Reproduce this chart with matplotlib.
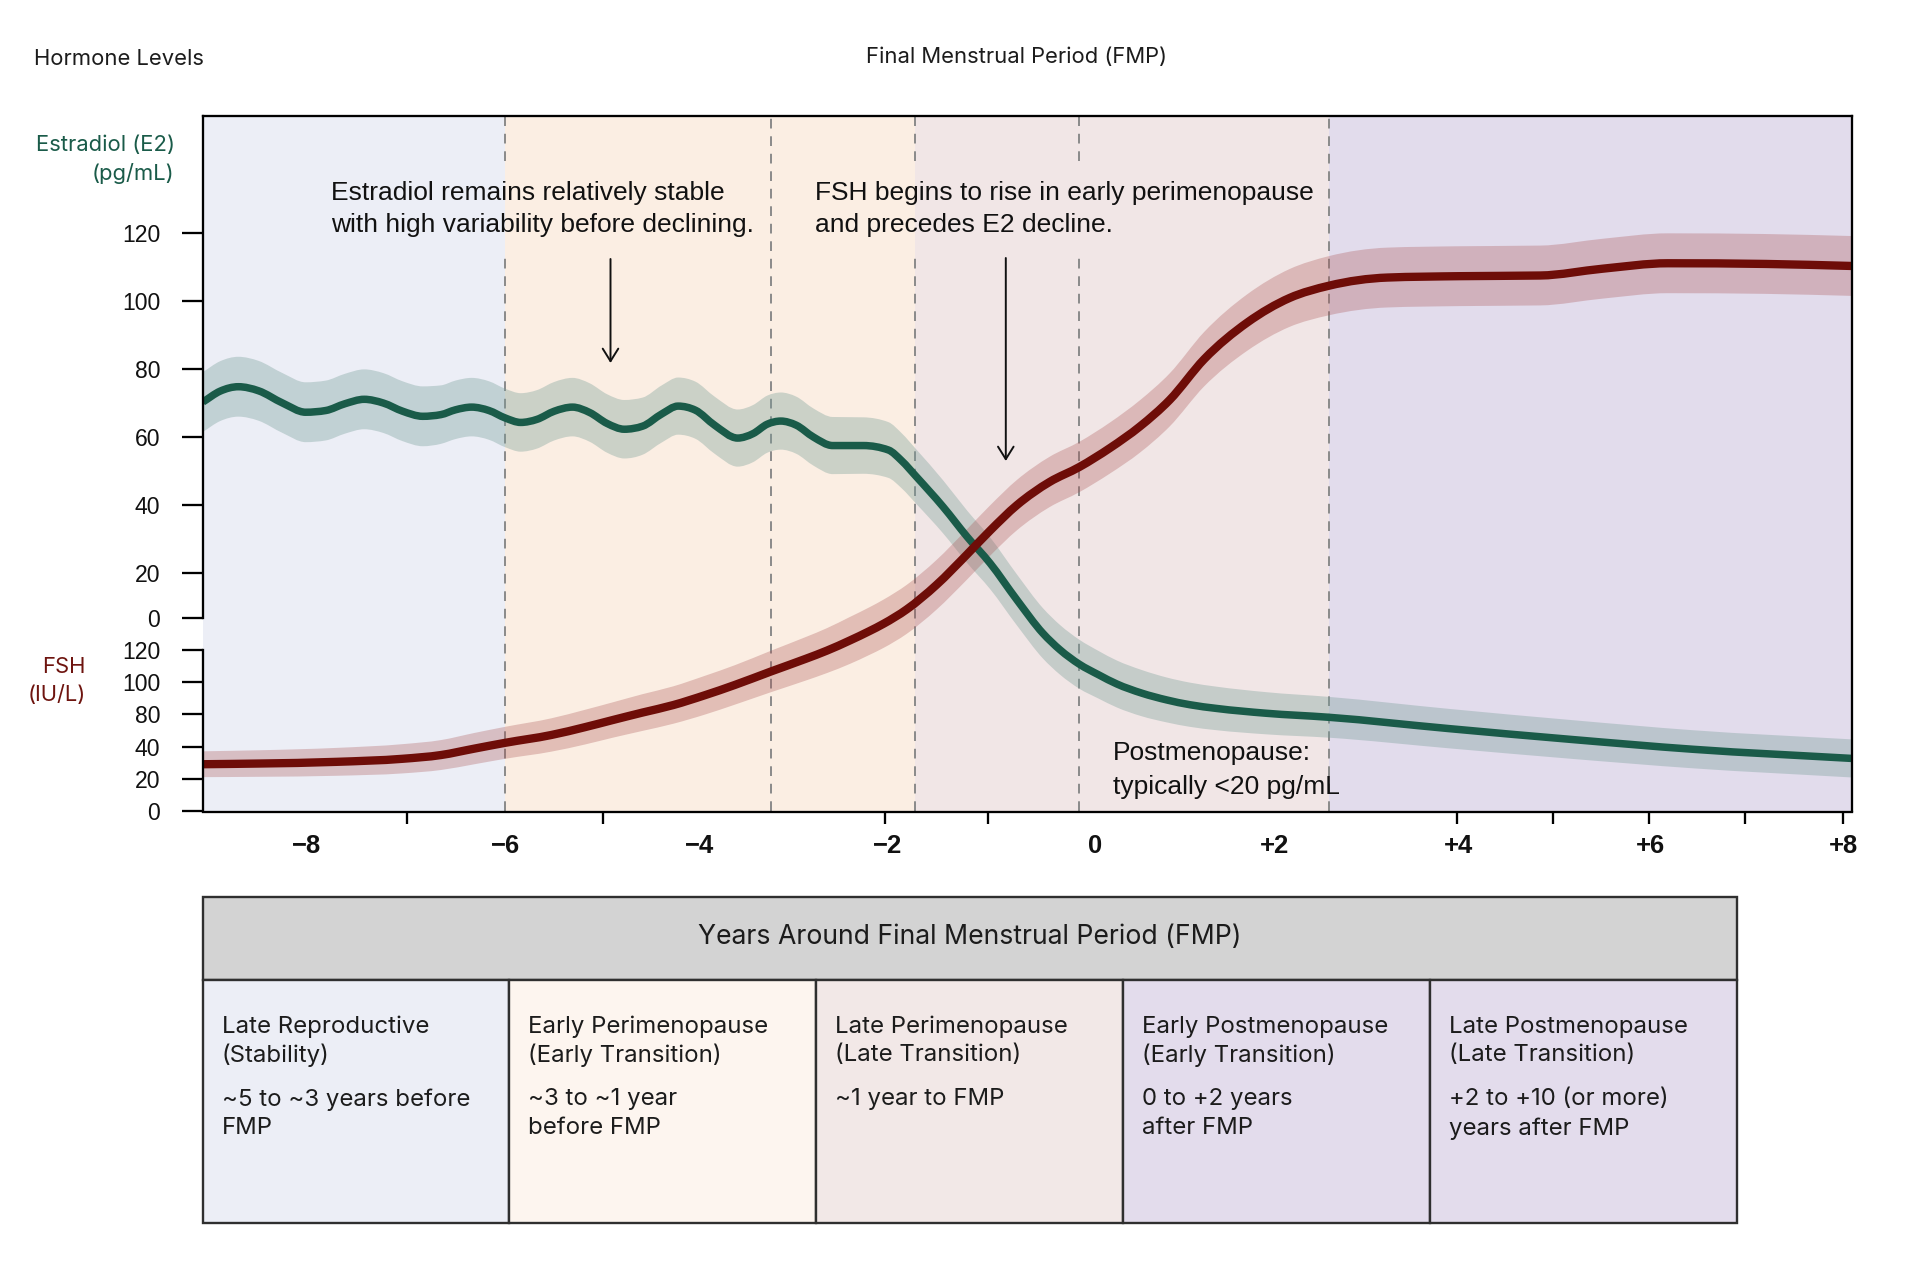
import numpy as np
import matplotlib
matplotlib.use("Agg")
import matplotlib.pyplot as plt
from matplotlib.patches import Rectangle, PathPatch
from matplotlib.path import Path

# ---------------- data ----------------
# x: years around the final menstrual period; y: level on the chart's E2 scale
years_e2 = [-9.08, -8.90, -8.71, -8.50, -8.25, -8.01, -7.80, -7.60, -7.40, -7.20,
            -7.00, -6.79, -6.60, -6.45, -6.28, -6.10, -5.93, -5.77, -5.60, -5.42,
            -5.23, -5.05, -4.87, -4.69, -4.50, -4.30, -4.13, -3.95, -3.75, -3.51,
            -3.35, -3.20, -3.06, -2.90, -2.72, -2.52, -2.20, -1.94, -1.80, -1.65,
            -1.37, -1.12, -0.88, -0.60, -0.33, -0.15, 0.05, 0.25, 0.44, 0.70,
            0.96, 1.20, 1.48, 1.99, 2.65, 3.89, 5.17, 6.44, 8.10]
e2_level = [70.3, 73.5, 74.8, 73.6, 70.0, 67.3, 67.8, 69.8, 71.1, 70.0,
            67.6, 66.1, 66.6, 68.0, 68.8, 67.8, 65.6, 64.3, 65.2, 67.6,
            68.8, 67.2, 64.0, 62.3, 63.2, 66.8, 69.1, 67.9, 63.5, 59.7,
            61.0, 63.8, 64.7, 63.5, 60.0, 57.5, 57.5, 56.2, 53.0, 48.4,
            39.5, 30.7, 22.9, 12.1, 2.3, -2.6, -6.8, -9.9, -12.6, -15.3,
            -17.3, -18.7, -19.8, -21.2, -22.4, -25.7, -28.9, -31.8, -34.5]
e2_spread = [8.8] * 12 + [8.6] * 12 + [8.4] * 12 + [8.3,
             8.2, 8.1, 8.0, 7.8, 7.7, 7.6, 7.5, 7.4, 7.3, 7.2,
             7.0, 6.9, 6.8, 6.6, 6.5, 6.4, 6.2, 6.0, 5.8, 5.7, 5.6, 5.6]

years_fsh = [-9.08, -8.50, -7.69, -7.00, -6.60, -6.25, -5.93, -5.45, -5.10, -4.81,
             -4.50, -4.18, -3.85, -3.54, -3.16, -2.80, -2.58, -2.34, -2.14, -1.99,
             -1.75, -1.44, -1.12, -0.88, -0.60, -0.26, 0.05, 0.37, 0.68, 0.99,
             1.35, 1.80, 2.24, 2.65, 3.26, 4.00, 4.85, 5.50, 6.18, 7.20, 8.10]
fsh_level = [-36.2, -36.0, -35.5, -34.6, -33.5, -31.6, -29.9, -27.6, -25.3, -23.2,
             -21.0, -18.8, -15.9, -12.9, -8.9, -5.2, -2.8, 0.2, 2.9, 5.1,
             9.3, 16.5, 25.5, 32.5, 40.0, 46.8, 51.2, 56.8, 63.1, 70.9,
             82.9, 93.7, 100.9, 104.5, 106.9, 107.3, 107.5, 109.5, 111.1, 110.9, 110.3]
fsh_spread = [3.8, 3.9, 4.1, 4.3, 4.4, 4.6, 4.7, 4.9, 5.1, 5.2,
              5.4, 5.5, 5.7, 5.8, 6.1, 6.4, 6.6, 6.9, 7.0, 7.1,
              7.2, 7.3, 7.4, 7.4, 7.4, 7.4, 7.4, 7.5, 7.7, 7.8,
              8.0, 8.3, 8.5, 8.7, 8.8, 8.8, 8.8, 8.8, 8.8, 8.8, 8.8]

phase_edges = [-5.93, -1.66, 2.65]          # years where background phase changes
dashed_years = [-5.93, -3.16, -1.66, 0.05, 2.65]

e2_tick_labels = ["120", "100", "80", "60", "40", "20", "0"]
fsh_tick_labels = ["120", "100", "80", "40", "20", "0"]
year_tick_labels = ["\u22128", "\u22126", "\u22124", "\u22122", "0", "+2", "+4", "+6", "+8"]

note_e2 = ["Estradiol remains relatively stable", "with high variability before declining."]
note_fsh = ["FSH begins to rise in early perimenopause", "and precedes E2 decline."]
note_post = ["Postmenopause:", "typically <20 pg/mL"]

table_header = "Years Around Final Menstrual Period (FMP)"
stage_names = ["Late Reproductive", "Early Perimenopause", "Late Perimenopause",
               "Early Postmenopause", "Late Postmenopause"]
stage_subtitles = ["(Stability)", "(Early Transition)", "(Late Transition)",
                   "(Early Transition)", "(Late Transition)"]
stage_ranges = [["~5 to ~3 years before", "FMP"],
                ["~3 to ~1 year", "before FMP"],
                ["~1 year to FMP"],
                ["0 to +2 years", "after FMP"],
                ["+2 to +10 (or more)", "years after FMP"]]

# ---------------- styles ----------------
GREEN = "#1a5b49"
RED = "#6e0d08"
PHASE_COLORS = ["#eceef6", "#fbeee3", "#f1e6e6", "#e2dcec"]
CELL_COLORS = ["#eceef6", "#fdf5ef", "#f2e8e7", "#e3dcec", "#e3dcec"]
SANS = ["Liberation Sans", "DejaVu Sans"]
GROT = ["Inter", "DejaVu Sans"]
TXT = "#1c1c1c"

W, H = 1917, 1271
fig = plt.figure(figsize=(W / 100, H / 100), dpi=100)
fig.patch.set_facecolor("white")
renderer = fig.canvas.get_renderer()


def fit(text, target_px, **kw):
    t = fig.text(0, 0, text, fontsize=20, **kw)
    w = t.get_window_extent(renderer=renderer).width
    t.remove()
    return 20.0 * target_px / w


fs_note = fit(note_e2[1], 422.5, family=SANS)
fs_ytick = fit("120", 38.5, family=SANS)
fs_xtick = fit("+4", 29.0, family=SANS, fontweight="bold")
fs_title = fit("Hormone Levels", 169.6, family=GROT)
fs_axlab = fit("Estradiol (E2)", 139.0, family=GROT)
fs_head = fit(table_header, 545.0, family=GROT)
fs_cell = fit(stage_ranges[0][0], 248.0, family=GROT)


# ---------------- smooth (monotone cubic) curve paths ----------------
def _tangents(x, y):
    h = np.diff(x)
    d = np.diff(y) / h
    m = np.empty_like(y)
    m[0], m[-1] = d[0], d[-1]
    for i in range(1, len(y) - 1):
        s0, s1, h0, h1 = d[i - 1], d[i], h[i - 1], h[i]
        p = (s0 * h1 + s1 * h0) / (h0 + h1)
        m[i] = (np.sign(s0) + np.sign(s1)) * min(abs(s0), abs(s1), 0.5 * abs(p))
    return m


def _bezier(x, y):
    x = np.asarray(x, float)
    y = np.asarray(y, float)
    m = _tangents(x, y)
    verts = [(x[0], y[0])]
    codes = [Path.MOVETO]
    for i in range(len(x) - 1):
        h = (x[i + 1] - x[i]) / 3.0
        verts += [(x[i] + h, y[i] + m[i] * h), (x[i + 1] - h, y[i + 1] - m[i + 1] * h),
                  (x[i + 1], y[i + 1])]
        codes += [Path.CURVE4] * 3
    return verts, codes


def smooth_line(axis, x, y, **kw):
    v, c = _bezier(x, y)
    axis.add_patch(PathPatch(Path(v, c), fill=False, **kw))


def smooth_band(axis, x, lo, hi, **kw):
    uv, uc = _bezier(x, hi)
    lv, _ = _bezier(x, lo)
    verts = uv + lv[::-1] + [uv[0]]
    codes = uc + [Path.LINETO] + [Path.CURVE4] * (len(lv) - 1) + [Path.CLOSEPOLY]
    axis.add_patch(PathPatch(Path(verts, codes), **kw))


# ---------------- main axes ----------------
PX_L, PX_R, PX_T, PX_B = 202.5, 1852.0, 116.0, 811.5
X0, X1 = -9.084, 8.098
Y0, Y1 = -50.1, 154.4
ax = fig.add_axes([PX_L / W, 1 - PX_B / H, (PX_R - PX_L) / W, (PX_B - PX_T) / H])
ax.set_xlim(X0, X1)
ax.set_ylim(Y0, Y1)


def yr(px):
    return X0 + (px - PX_L) * (X1 - X0) / (PX_R - PX_L)


def lvl(py):
    return Y1 - (py - PX_T) * (Y1 - Y0) / (PX_B - PX_T)


# phase backgrounds
edges = [X0] + phase_edges + [X1]
for i, c in enumerate(PHASE_COLORS):
    ax.axvspan(edges[i], edges[i + 1], color=c, lw=0, zorder=0)

# bands and lines
e2 = np.array(e2_level); e2s = np.array(e2_spread)
fs = np.array(fsh_level); fss = np.array(fsh_spread)
smooth_band(ax, years_e2, e2 - e2s, e2 + e2s, facecolor="#779e98", alpha=0.36, lw=0, zorder=2)
smooth_band(ax, years_fsh, fs - fss, fs + fss, facecolor="#a94f50", alpha=0.30, lw=0, zorder=2.1)
smooth_line(ax, years_e2, e2_level, edgecolor=GREEN, lw=5.4, zorder=3,
            capstyle="butt", joinstyle="round")
smooth_line(ax, years_fsh, fsh_level, edgecolor=RED, lw=6.0, zorder=3.1,
            capstyle="butt", joinstyle="round")


# annotation texts
def put_lines(x, ys, lines, **kw):
    return [ax.text(x, y, s, **kw) for y, s in zip(ys, lines)]


kw_note = dict(fontsize=fs_note, family=SANS, color="#111111", ha="left", va="center", zorder=6)
t_e2 = put_lines(yr(330.7), [lvl(192.7), lvl(225.3)], note_e2, **kw_note)
t_fsh = put_lines(yr(815.0), [lvl(192.7), lvl(225.3)], note_fsh, **kw_note)
put_lines(yr(1112.6), [lvl(753.0), lvl(786.7)], note_post, **kw_note)

# dashed phase lines, broken where they cross the upper notes
inv = ax.transData.inverted()
gaps = []
for group in (t_e2, t_fsh):
    bbs = [t.get_window_extent(renderer=renderer) for t in group]
    x0 = min(b.x0 for b in bbs); x1 = max(b.x1 for b in bbs)
    y0 = min(b.y0 for b in bbs) - 20; y1 = max(b.y1 for b in bbs) + 20
    (dx0, dy0), (dx1, dy1) = inv.transform([(x0, y0), (x1, y1)])
    gaps.append((dx0, dx1, dy0, dy1))
for xv in dashed_years:
    segs = [(Y0, Y1)]
    for gx0, gx1, gy0, gy1 in gaps:
        if gx0 <= xv <= gx1:
            segs = [(Y0, gy0), (gy1, Y1)]
    for a, b in segs:
        ax.plot([xv, xv], [a, b], color="#8a8a8a", lw=1.4, ls=(0, (5, 4)), zorder=1)

# arrows
for x, ya, yb in [(yr(610.5), lvl(259.0), lvl(363.0)), (yr(1005.8), lvl(258.0), lvl(461.0))]:
    ax.annotate("", xy=(x, yb), xytext=(x, ya), zorder=6,
                arrowprops=dict(arrowstyle="->,head_length=0.45,head_width=0.28",
                                lw=1.4, color="#111111", shrinkA=0, shrinkB=0,
                                mutation_scale=20))

# y ticks (two stacked scales)
e2_pos = [120, 100, 80, 60, 40, 20, lvl(618.4)]
fsh_pos = [lvl(650.0), lvl(681.7), lvl(714.0), lvl(746.7), lvl(779.0), lvl(811.5)]
ax.set_yticks(e2_pos + fsh_pos)
ax.set_yticklabels(e2_tick_labels + fsh_tick_labels, fontsize=fs_ytick, family=SANS, color="#111111")
ax.tick_params(axis="y", length=15.1, width=1.65, pad=15.5, color="black")

# x ticks: marks (minor) and labels (major)
mark_px = [306.7, 406.5, 505.8, 603.0, 885.4, 987.5, 1094.9, 1456.9, 1552.9, 1648.9, 1745.4, 1842.5]
label_px = [306.7, 505.8, 700.0, 887.6, 1094.9, 1274.8, 1458.0, 1650.0, 1843.6]
ax.set_xticks([yr(p) for p in label_px])
ax.set_xticklabels(year_tick_labels, fontsize=fs_xtick, family=SANS, fontweight="bold", color="#111111")
ax.set_xticks([yr(p) for p in mark_px], minor=True)
ax.tick_params(axis="x", which="major", length=0, pad=16.0)
ax.tick_params(axis="x", which="minor", length=8.4, width=1.65, color="black")

for side in ("top", "right", "bottom"):
    ax.spines[side].set_linewidth(1.65)
    ax.spines[side].set_color("black")
    ax.spines[side].set_zorder(7)
ax.spines["left"].set_visible(False)
ytr = ax.get_yaxis_transform()
for a, b in [(lvl(618.4), Y1), (Y0, lvl(650.0))]:
    ax.plot([0, 0], [a, b], transform=ytr, color="black", lw=1.65, clip_on=False,
            zorder=7, solid_capstyle="projecting")

# ---------------- overlay (figure pixels) ----------------
ov = fig.add_axes([0, 0, 1, 1])
ov.set_xlim(0, W)
ov.set_ylim(H, 0)
ov.axis("off")

ov.text(33.7, 59, "Hormone Levels", fontsize=fs_title, family=GROT, color=TXT, ha="left", va="center")
ov.text(1017, 57, "Final Menstrual Period (FMP)", fontsize=fs_title, family=GROT, color=TXT,
        ha="center", va="center")
for y, s in [(145, "Estradiol (E2)"), (173.5, "(pg/mL)")]:
    ov.text(174.5, y, s, fontsize=fs_axlab, family=GROT, color=GREEN, ha="right", va="center")
for y, s in [(666.7, "FSH"), (695, "(IU/L)")]:
    ov.text(85.7, y, s, fontsize=fs_axlab, family=GROT, color="#6e140f", ha="right", va="center")

# table
TL, TR, TT, THB, TB = 202.6, 1736.5, 897.0, 979.5, 1222.5
cw = (TR - TL) / len(stage_names)
EDGE = "#2f2f2f"
ov.add_patch(Rectangle((TL, TT), TR - TL, THB - TT, facecolor="#d3d3d3", edgecolor=EDGE, lw=1.7, zorder=1))
ov.text((TL + TR) / 2, 937.5, table_header, fontsize=fs_head, family=GROT, color=TXT,
        ha="center", va="center", zorder=3)
for i, name in enumerate(stage_names):
    x = TL + i * cw
    ov.add_patch(Rectangle((x, THB), cw, TB - THB, facecolor=CELL_COLORS[i], edgecolor=EDGE,
                           lw=1.7, zorder=1))
    for y, s in zip([1026.7, 1055.5], [name, stage_subtitles[i]]):
        ov.text(x + 19, y, s, fontsize=fs_cell, family=GROT, color=TXT, ha="left", va="center", zorder=3)
    for j, s in enumerate(stage_ranges[i]):
        ov.text(x + 19, 1099.4 + 29.0 * j, s, fontsize=fs_cell, family=GROT, color=TXT,
                ha="left", va="center", zorder=3)

fig.savefig("out.png", dpi=100, facecolor="white")
